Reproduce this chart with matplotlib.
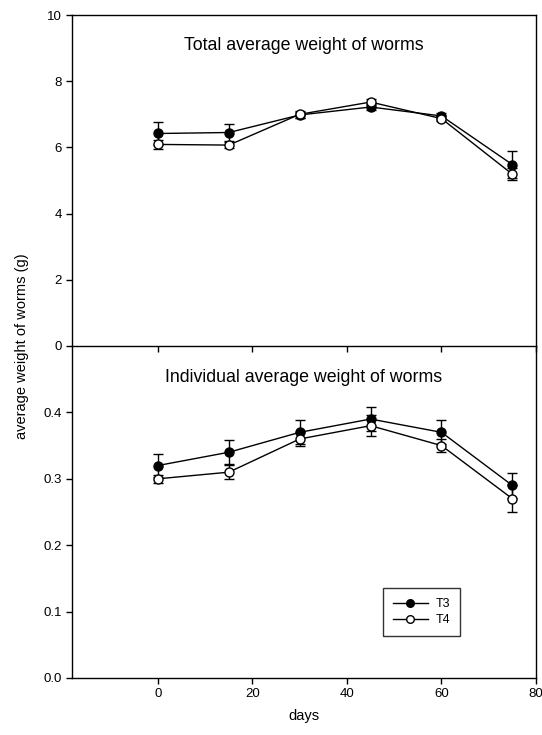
import numpy as np
import matplotlib.pyplot as plt
from matplotlib.lines import Line2D

plt.rcParams['font.family'] = ['Liberation Sans', 'DejaVu Sans']

# data
days = [0, 15, 30, 45, 60, 75]

total_t3 = [6.42, 6.45, 6.98, 7.22, 6.95, 5.48]
total_t3_err = [0.34, 0.27, 0.10, 0.10, 0.08, 0.40]
total_t4 = [6.09, 6.07, 7.00, 7.37, 6.87, 5.19]
total_t4_err = [0.13, 0.08, 0.10, 0.10, 0.08, 0.19]

indiv_t3 = [0.32, 0.34, 0.37, 0.39, 0.37, 0.29]
indiv_t3_err = [0.017, 0.018, 0.018, 0.018, 0.018, 0.019]
indiv_t4 = [0.30, 0.31, 0.36, 0.38, 0.35, 0.27]
indiv_t4_err = [0.006, 0.011, 0.011, 0.016, 0.010, 0.020]

top_ticks = [0, 2, 4, 6, 8, 10]
bottom_ticks = [0.0, 0.1, 0.2, 0.3, 0.4]
x_ticks = [0, 20, 40, 60, 80]

W, H = 542, 735
fig = plt.figure(figsize=(W / 100, H / 100), dpi=100)

left, right = 72, 536
top, mid, bottom = 15, 346, 678
ax2 = fig.add_axes([left / W, 1 - bottom / H, (right - left) / W, (bottom - mid) / H])
ax1 = fig.add_axes([left / W, 1 - mid / H, (right - left) / W, (mid - top) / H])
ax1.patch.set_visible(False)
ax2.patch.set_visible(False)


def draw_series(ax, y1, e1, y2, e2):
    ax.errorbar(days, y1, yerr=e1, color='black', lw=1, marker='o', ms=6.5,
                mfc='black', mec='black', capsize=3.5, elinewidth=1, capthick=1,
                zorder=3)
    ax.errorbar(days, y2, yerr=e2, color='black', lw=1, marker='o', ms=6.5,
                mfc='white', mec='black', capsize=3.5, elinewidth=1, capthick=1,
                zorder=4)


draw_series(ax1, total_t3, total_t3_err, total_t4, total_t4_err)
draw_series(ax2, indiv_t3, indiv_t3_err, indiv_t4, indiv_t4_err)

for ax in (ax1, ax2):
    ax.set_xlim(-18.2, 80)
    ax.set_xticks(x_ticks)
    ax.tick_params(direction='out', length=4, width=1, labelsize=9.5,
                   top=False, right=False, colors='black')
    for s in ax.spines.values():
        s.set_linewidth(1)
        s.set_color('black')

ax1.set_ylim(0, 10)
ax1.set_yticks(top_ticks)
ax1.set_xticklabels([])
ax1.text(0.5, 0.909, 'Total average weight of worms', transform=ax1.transAxes,
         ha='center', va='center', fontsize=12.8)

ax2.set_ylim(0, 0.5)
ax2.set_yticks(bottom_ticks)
ax2.set_yticklabels(['%.1f' % v for v in bottom_ticks])
ax2.spines['top'].set_visible(False)
ax2.text(0.5, 0.904, 'Individual average weight of worms', transform=ax2.transAxes,
         ha='center', va='center', fontsize=12.8)
ax2.set_xlabel('days', fontsize=10.5, labelpad=6)

handles = [
    Line2D([], [], color='black', lw=1, marker='o', ms=5.5, mfc='black', mec='black'),
    Line2D([], [], color='black', lw=1, marker='o', ms=5.5, mfc='white', mec='black'),
]
leg = ax2.legend(handles, ['T3', 'T4'], loc='upper left', bbox_to_anchor=(0.67, 0.271),
                 fontsize=9, frameon=True, fancybox=False, handlelength=2.8,
                 borderpad=0.8, labelspacing=0.35, handletextpad=0.6, borderaxespad=0)
leg.get_frame().set_edgecolor('black')
leg.get_frame().set_linewidth(1)

fig.text(22 / W, 1 - 346 / H, 'average weight of worms (g)', rotation=90,
         ha='center', va='center', fontsize=10.5)

fig.savefig('out.png', dpi=100)
plt.close()
